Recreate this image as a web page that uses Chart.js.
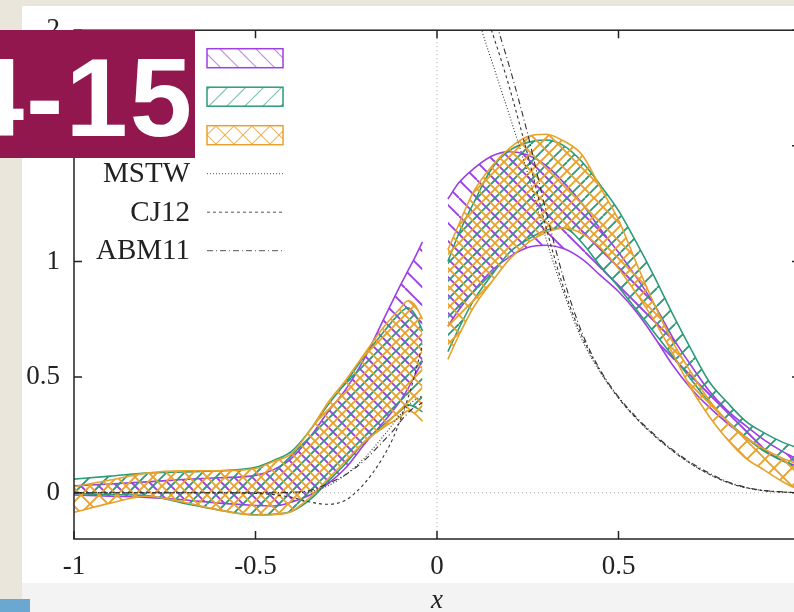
<!DOCTYPE html>
<html><head><meta charset="utf-8">
<script src="https://cdn.jsdelivr.net/npm/chart.js@4/dist/chart.umd.min.js"></script>
<style>
html,body{margin:0;padding:0;width:794px;height:612px;overflow:hidden;background:#ffffff;position:relative}
#bgL{position:absolute;left:0;top:0;width:22px;height:612px;background:#ebe6dc;z-index:3}
#bgT{position:absolute;left:0;top:0;width:794px;height:6px;background:#ebe6dc;z-index:3}
#bgB{position:absolute;left:0;top:583px;width:794px;height:29px;background:#f3f3f3;z-index:0}
#blue{position:absolute;left:0;top:599px;width:30px;height:13px;background:#6aa8d2;z-index:4}
#wrap{position:absolute;left:0;top:0;width:830px;height:612px;z-index:1}
#badge{position:absolute;left:0;top:30px;width:195px;height:128px;background:#93174f;overflow:hidden;z-index:5}
#badge span{position:absolute;right:1px;top:12px;font-family:"Liberation Sans";font-weight:bold;font-size:112px;line-height:112px;letter-spacing:2px;color:#ffffff;white-space:nowrap}
</style></head>
<body>
<div id="bgB"></div>
<div id="wrap"><canvas id="c" width="830" height="612"></canvas></div>
<div id="bgL"></div><div id="bgT"></div><div id="blue"></div>
<div id="badge"><span>4-15</span></div>
<script>
// ---------- data ----------
const xTickValues = [-1, -0.5, 0, 0.5, 1];
const xTickLabels = ["-1", "-0.5", "0", "0.5", "1"];
const yTickValues = [0, 0.5, 1, 1.5, 2];
const yTickLabels = ["0", "0.5", "1", "1.5", "2"];

const xLeft = [-1, -0.9, -0.8, -0.7, -0.6, -0.5, -0.45, -0.4, -0.35, -0.3, -0.25, -0.2, -0.15, -0.1, -0.08, -0.06, -0.04];
const purpleUpperL = [0.03, 0.038, 0.047, 0.057, 0.065, 0.075, 0.10, 0.15, 0.24, 0.35, 0.45, 0.58, 0.74, 0.90, 0.96, 1.02, 1.085];
const purpleLowerL = [-0.01, -0.015, -0.02, -0.03, -0.045, -0.055, -0.057, -0.04, -0.01, 0.04, 0.11, 0.21, 0.30, 0.40, 0.45, 0.51, 0.57];
const greenUpperL = [0.059, 0.072, 0.085, 0.09, 0.095, 0.11, 0.14, 0.18, 0.27, 0.38, 0.48, 0.59, 0.69, 0.78, 0.80, 0.77, 0.70];
const greenLowerL = [-0.003, -0.008, -0.012, -0.045, -0.075, -0.095, -0.093, -0.08, -0.03, 0.05, 0.13, 0.22, 0.29, 0.355, 0.38, 0.37, 0.35];
const orangeUpperL = [0.026, 0.055, 0.085, 0.095, 0.095, 0.105, 0.135, 0.17, 0.27, 0.39, 0.49, 0.60, 0.71, 0.80, 0.83, 0.81, 0.75];
const orangeLowerL = [-0.085, -0.045, -0.015, -0.04, -0.075, -0.097, -0.095, -0.08, -0.02, 0.06, 0.14, 0.22, 0.28, 0.33, 0.355, 0.34, 0.31];

const xRight = [0.03, 0.06, 0.1, 0.15, 0.2, 0.25, 0.3, 0.35, 0.4, 0.45, 0.5, 0.55, 0.6, 0.65, 0.7, 0.75, 0.8, 0.85, 0.9, 0.95, 1.0];
const purpleUpperR = [1.27, 1.34, 1.40, 1.455, 1.475, 1.46, 1.415, 1.34, 1.25, 1.14, 1.04, 0.93, 0.81, 0.67, 0.55, 0.44, 0.355, 0.29, 0.23, 0.18, 0.14];
const purpleLowerR = [0.72, 0.79, 0.87, 0.96, 1.02, 1.06, 1.07, 1.055, 1.01, 0.94, 0.87, 0.78, 0.67, 0.55, 0.45, 0.37, 0.30, 0.24, 0.185, 0.14, 0.11];
const greenUpperR = [1.0, 1.12, 1.25, 1.40, 1.48, 1.515, 1.525, 1.50, 1.43, 1.33, 1.22, 1.08, 0.93, 0.77, 0.62, 0.48, 0.39, 0.31, 0.26, 0.22, 0.19];
const greenLowerR = [0.61, 0.71, 0.83, 0.94, 1.04, 1.095, 1.135, 1.145, 1.08, 0.98, 0.89, 0.79, 0.69, 0.59, 0.49, 0.39, 0.31, 0.24, 0.18, 0.14, 0.10];
const orangeUpperR = [1.05, 1.16, 1.30, 1.41, 1.49, 1.54, 1.55, 1.52, 1.46, 1.32, 1.18, 0.99, 0.81, 0.65, 0.52, 0.40, 0.31, 0.24, 0.19, 0.15, 0.12];
const orangeLowerR = [0.577, 0.68, 0.80, 0.91, 1.01, 1.08, 1.125, 1.145, 1.12, 1.06, 0.97, 0.86, 0.74, 0.60, 0.45, 0.33, 0.23, 0.15, 0.10, 0.05, 0.01];

const xBlackL = [-1, -0.9, -0.8, -0.7, -0.6, -0.5, -0.45, -0.4, -0.35, -0.3, -0.25, -0.2, -0.15, -0.12, -0.1, -0.07, -0.04];
const mstwL = [0, 0, 0, 0, 0, 0, 0, 0, 0.005, 0.03, 0.08, 0.15, 0.24, 0.30, 0.34, 0.39, 0.42];
const cj12L = [0, 0, 0, 0, 0, -0.003, -0.008, -0.02, -0.04, -0.05, -0.03, 0.04, 0.15, 0.24, 0.32, 0.46, 0.64];
const abm11L = [0, 0, 0, 0, 0, 0, 0, 0.002, 0.01, 0.04, 0.08, 0.14, 0.22, 0.27, 0.31, 0.36, 0.39];

const xBlackR = [0.1, 0.125, 0.15, 0.175, 0.2, 0.25, 0.3, 0.35, 0.4, 0.45, 0.5, 0.55, 0.6, 0.65, 0.7, 0.75, 0.8, 0.85, 0.9, 0.95, 1.0];
const mstwR = [2.12, 1.99, 1.87, 1.75, 1.63, 1.38, 1.10, 0.86, 0.66, 0.52, 0.41, 0.32, 0.245, 0.18, 0.125, 0.08, 0.045, 0.022, 0.009, 0.003, 0.0];
const cj12R = [2.25, 2.12, 2.0, 1.88, 1.75, 1.46, 1.15, 0.88, 0.675, 0.525, 0.41, 0.32, 0.245, 0.18, 0.125, 0.08, 0.045, 0.022, 0.009, 0.003, 0.0];
const abm11R = [2.35, 2.22, 2.1, 1.97, 1.84, 1.55, 1.22, 0.92, 0.69, 0.53, 0.415, 0.325, 0.25, 0.185, 0.13, 0.085, 0.048, 0.024, 0.01, 0.004, 0.0];

const lineLabels = ["MSTW", "CJ12", "ABM11"];

// ---------- styles ----------
const PURPLE = '#9b3fe6', GREEN = '#2a9d78', ORANGE = '#e8a22c', BLACK = '#333333';
const canvas = document.getElementById('c');
const mainCtx = canvas.getContext('2d');
function hatch(color, dir, lw, off) {
  const s = 18, c = document.createElement('canvas');
  c.width = s; c.height = s;
  const g = c.getContext('2d');
  g.strokeStyle = color; g.lineWidth = lw;
  const draw = d => {
    g.beginPath();
    for (const k of [-2 * s, -s, 0, s]) {
      const o = k + off;
      if (d === 'b') { g.moveTo(o, 0); g.lineTo(o + s, s); }
      else { g.moveTo(o + s, 0); g.lineTo(o, s); }
    }
    g.stroke();
  };
  if (dir === 'x') { draw('b'); draw('f'); } else draw(dir);
  return mainCtx.createPattern(c, 'repeat');
}
const patPurple = hatch(PURPLE, 'b', 1.9, 9), patGreen = hatch(GREEN, 'f', 1.9, 9), patOrange = hatch(ORANGE, 'x', 1.9, 0);
const legPurple = hatch('rgba(155,63,230,0.6)', 'b', 1.2, 9), legGreen = hatch('rgba(42,157,120,0.6)', 'f', 1.2, 9), legOrange = hatch('rgba(232,162,44,0.75)', 'x', 1.2, 0);

function pts(xs, ys) { return xs.map((x, i) => ({ x: x, y: ys[i] })); }

const datasets = [];
function band(xs, up, lo, color, pat, order) {
  const i = datasets.length;
  datasets.push({ data: pts(xs, up), borderColor: color, borderWidth: 1.6, pointRadius: 0,
    fill: { target: i + 1, above: pat, below: pat }, backgroundColor: pat, order: order, cubicInterpolationMode: 'monotone' });
  datasets.push({ data: pts(xs, lo), borderColor: color, borderWidth: 1.6, pointRadius: 0, fill: false, order: order, cubicInterpolationMode: 'monotone' });
}
band(xLeft, orangeUpperL, orangeLowerL, ORANGE, patOrange, 1);
band(xRight, orangeUpperR, orangeLowerR, ORANGE, patOrange, 1);
band(xLeft, greenUpperL, greenLowerL, GREEN, patGreen, 2);
band(xRight, greenUpperR, greenLowerR, GREEN, patGreen, 2);
band(xLeft, purpleUpperL, purpleLowerL, PURPLE, patPurple, 3);
band(xRight, purpleUpperR, purpleLowerR, PURPLE, patPurple, 3);

const dashes = [[1, 2], [3, 3], [6, 3, 1, 3]];
[[mstwL, mstwR], [cj12L, cj12R], [abm11L, abm11R]].forEach((pair, k) => {
  datasets.push({ data: pts(xBlackL, pair[0]), borderColor: BLACK, borderWidth: 1.1, borderDash: dashes[k], pointRadius: 0, fill: false, order: 0, cubicInterpolationMode: 'monotone' });
  datasets.push({ data: pts(xBlackR, pair[1]), borderColor: BLACK, borderWidth: 1.1, borderDash: dashes[k], pointRadius: 0, fill: false, order: 0, cubicInterpolationMode: 'monotone' });
});

const SERIF = '"Liberation Serif", "DejaVu Serif", serif';

const framePlugin = {
  id: 'frame',
  beforeDatasetsDraw(chart) {
    const { ctx, chartArea: a, scales: { x, y } } = chart;
    ctx.save();
    ctx.strokeStyle = '#a0a0a0'; ctx.lineWidth = 1; ctx.setLineDash([1, 3]);
    const x0 = x.getPixelForValue(0), y0 = y.getPixelForValue(0);
    ctx.beginPath();
    ctx.moveTo(x0, a.top); ctx.lineTo(x0, a.bottom);
    ctx.moveTo(a.left, y0); ctx.lineTo(a.right, y0);
    ctx.stroke();
    ctx.restore();
  },
  afterDraw(chart) {
    const { ctx, chartArea: a, scales: { x, y } } = chart;
    ctx.save();
    ctx.strokeStyle = '#222'; ctx.lineWidth = 1.5; ctx.setLineDash([]);
    ctx.strokeRect(a.left, a.top, a.right - a.left, a.bottom - a.top);
    const tl = 8;
    ctx.beginPath();
    xTickValues.forEach(v => {
      const px = x.getPixelForValue(v);
      ctx.moveTo(px, a.bottom); ctx.lineTo(px, a.bottom - tl);
      ctx.moveTo(px, a.top); ctx.lineTo(px, a.top + tl);
    });
    yTickValues.forEach(v => {
      const py = y.getPixelForValue(v);
      ctx.moveTo(a.left, py); ctx.lineTo(a.left + tl, py);
      ctx.moveTo(a.right, py); ctx.lineTo(a.right - tl, py);
    });
    ctx.stroke();
    // legend
    const lx0 = a.left + 133, lx1 = a.left + 209, rowY0 = a.top + 28, rowH = 38.5;
    const pats = [[legPurple, PURPLE], [legGreen, GREEN], [legOrange, ORANGE]];
    pats.forEach((p, i) => {
      const cy = rowY0 + i * rowH;
      ctx.fillStyle = p[0];
      ctx.fillRect(lx0, cy - 9.5, lx1 - lx0, 19);
      ctx.strokeStyle = p[1]; ctx.lineWidth = 1.5;
      ctx.strokeRect(lx0, cy - 9.5, lx1 - lx0, 19);
    });
    ctx.font = '29px ' + SERIF;
    ctx.fillStyle = '#222'; ctx.textAlign = 'right'; ctx.textBaseline = 'middle';
    lineLabels.forEach((lab, k) => {
      const cy = rowY0 + (k + 3) * rowH;
      ctx.fillText(lab, lx0 - 17, cy + 1);
      ctx.strokeStyle = '#555'; ctx.lineWidth = 1; ctx.setLineDash(dashes[k]);
      ctx.beginPath(); ctx.moveTo(lx0, cy); ctx.lineTo(lx1, cy); ctx.stroke();
    });
    ctx.restore();
  }
};

new Chart(canvas, {
  type: 'line',
  data: { datasets: datasets },
  plugins: [framePlugin],
  options: {
    responsive: false, animation: false, events: [],
    layout: { padding: { top: 27, right: 30, left: 0, bottom: 0 } },
    plugins: { legend: { display: false }, tooltip: { enabled: false }, filler: { propagate: false } },
    scales: {
      x: {
        type: 'linear', min: -1, max: 1,
        afterFit: s => { s.height = 73; },
        afterBuildTicks: s => { s.ticks = xTickValues.map(v => ({ value: v })); },
        grid: { display: false, drawTicks: false },
        border: { display: false },
        ticks: { padding: 12, color: '#222', font: { family: SERIF, size: 27 },
          callback: v => xTickLabels[xTickValues.indexOf(v)] },
        title: { display: true, text: 'x', color: '#222', padding: 0,
          font: { family: SERIF, size: 27, style: 'italic', lineHeight: 0.8 } }
      },
      y: {
        type: 'linear', min: -0.2, max: 2,
        afterFit: s => { s.width = 74; },
        afterBuildTicks: s => { s.ticks = yTickValues.map(v => ({ value: v })); },
        grid: { display: false, drawTicks: false },
        border: { display: false },
        ticks: { padding: 14, color: '#222', font: { family: SERIF, size: 27 },
          callback: v => yTickLabels[yTickValues.indexOf(v)] }
      }
    }
  }
});
</script>
</body></html>
